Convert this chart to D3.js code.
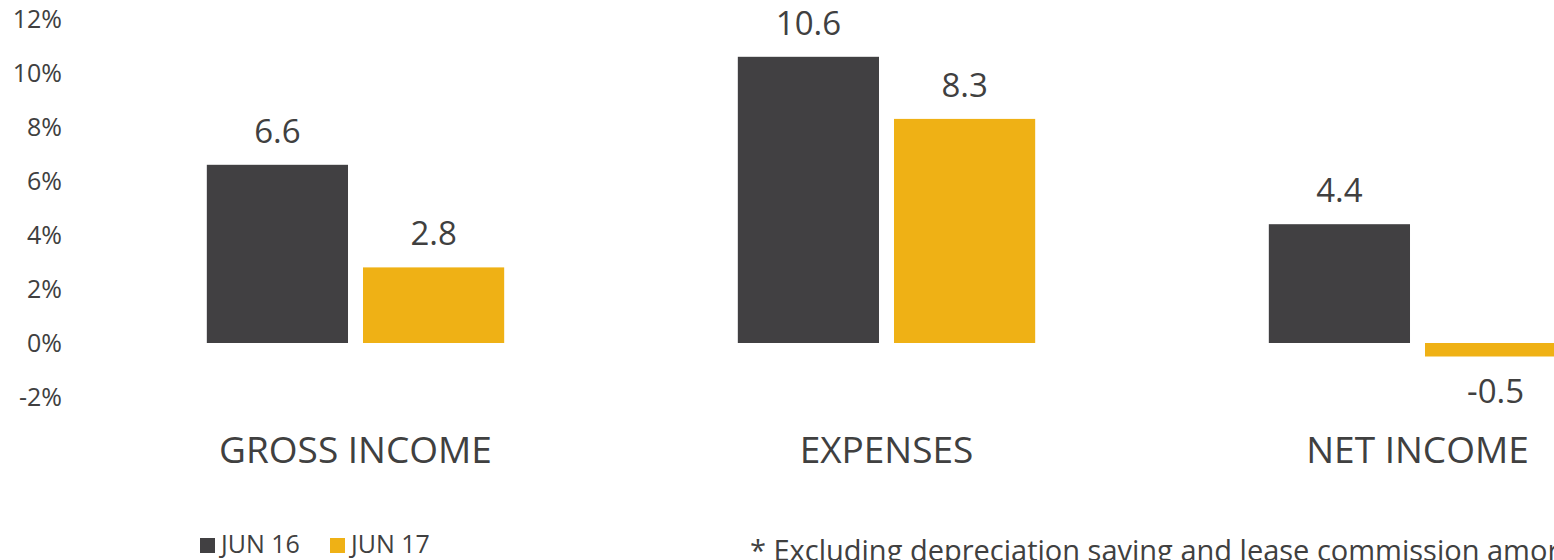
<!DOCTYPE html>
<html>
<head>
<meta charset="utf-8">
<script src="https://cdn.jsdelivr.net/npm/d3@7"></script>
<style>
  html, body { margin: 0; padding: 0; background: #fff; overflow: hidden; }
  svg { display: block; font-family: "Open Sans", sans-serif; }
</style>
</head>
<body>
<svg id="chart" width="1554" height="560"></svg>
<script>
const categories = ["GROSS INCOME", "EXPENSES", "NET INCOME"];
const seriesNames = ["JUN 16", "JUN 17"];
const jun16 = [6.6, 10.6, 4.4];
const jun17 = [2.8, 8.3, -0.5];
const yTicks = [-2, 0, 2, 4, 6, 8, 10, 12];
const footnote = "* Excluding depreciation saving and lease commission amortization";

const colors = { "JUN 16": "#414042", "JUN 17": "#EFB115" };
const textColor = "#404040";

const svg = d3.select("#chart");
const data = categories.map((c, i) => ({ cat: c, values: [
  { s: seriesNames[0], v: jun16[i] },
  { s: seriesNames[1], v: jun17[i] }
]}));

const x0 = d3.scaleBand().domain(categories).range([90, 1683]).paddingInner(0.44).paddingOuter(0.22);
const x1 = d3.scaleBand().domain(seriesNames).range([0, x0.bandwidth()]).paddingInner(0.096);
const y = d3.scaleLinear().domain([-2, 12]).range([397, 19]);

// y axis labels (no line, no ticks)
const yAxis = d3.axisLeft(y).tickValues(yTicks).tickFormat(d => d + "%").tickSize(0).tickPadding(0);
const gy = svg.append("g").attr("transform", "translate(62,0)").call(yAxis);
gy.select(".domain").remove();
gy.selectAll("text").attr("fill", textColor).style("font-size", "25px").style("font-family", "'Open Sans', sans-serif").attr("dy", "0.35em");

const groups = svg.append("g").selectAll("g").data(data).join("g")
  .attr("transform", d => `translate(${x0(d.cat)},0)`);

groups.selectAll("rect").data(d => d.values).join("rect")
  .attr("x", d => x1(d.s))
  .attr("width", x1.bandwidth())
  .attr("y", d => y(Math.max(0, d.v)))
  .attr("height", d => Math.abs(y(d.v) - y(0)))
  .attr("fill", d => colors[d.s]);

groups.selectAll("text.val").data(d => d.values).join("text")
  .attr("class", "val")
  .attr("x", d => x1(d.s) + x1.bandwidth() / 2)
  .attr("y", d => d.v >= 0 ? y(d.v) - 22 : y(d.v) + 46)
  .attr("text-anchor", "middle")
  .attr("fill", textColor)
  .style("font-size", "33px")
  .text(d => d.v.toFixed(1));

// category labels
svg.append("g").selectAll("text").data(categories).join("text")
  .attr("x", d => x0(d) + x0.bandwidth() / 2)
  .attr("y", 463)
  .attr("text-anchor", "middle")
  .attr("fill", textColor)
  .style("font-size", "37px")
  .text(d => d);

// legend
const legend = svg.append("g").selectAll("g").data(seriesNames).join("g")
  .attr("transform", (d, i) => `translate(${200 + i * 130},0)`);
legend.append("rect").attr("x", 0).attr("y", 538).attr("width", 15).attr("height", 15).attr("fill", d => colors[d]);
legend.append("text").attr("x", 21).attr("y", 553).attr("fill", textColor).style("font-size", "25px").text(d => d);

// footnote (cut off by the picture's edges, as in the reference)
svg.append("text").attr("x", 750).attr("y", 561).attr("fill", textColor).style("font-size", "29px").text(footnote);
</script>
</body>
</html>
